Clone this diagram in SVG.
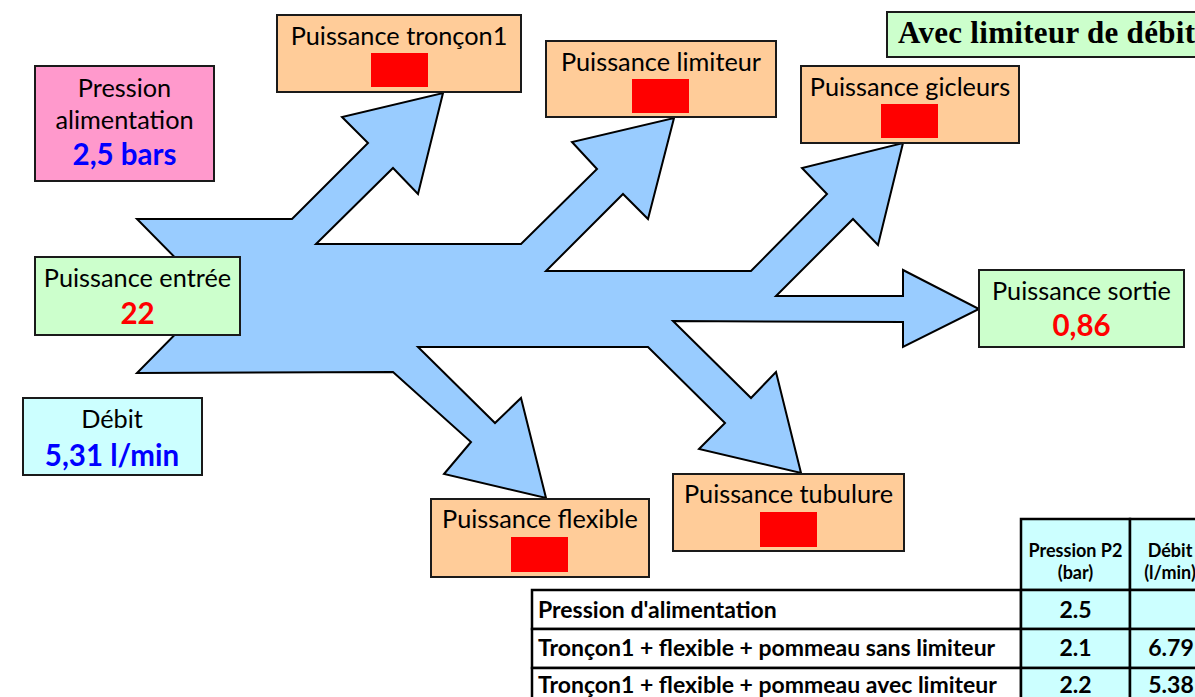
<svg xmlns="http://www.w3.org/2000/svg" width="1195" height="697" viewBox="0 0 1195 697">
<style>
.box{stroke:#1a1a1a;stroke-width:2}
.orange{fill:#FFCC99}.green{fill:#CCFFCC}.pink{fill:#FF99CC}.cyan{fill:#CCFFFF}
.red{fill:#FF0000}
.t{font-family:Lato,"Liberation Sans",sans-serif;font-size:25.3px;fill:#000;text-anchor:middle}
.nb{font-family:Lato,"Liberation Sans",sans-serif;font-size:29.5px;font-weight:bold;text-anchor:middle}
.blue{fill:#0000FF}.rtx{fill:#FF0000}
.title{font-family:"Liberation Serif",serif;font-size:31px;font-weight:bold;fill:#000}
.cell{stroke:#000;stroke-width:2.5}
.th{font-family:Lato,"Liberation Sans",sans-serif;font-size:18px;font-weight:bold;text-anchor:middle}
.td{font-family:Lato,"Liberation Sans",sans-serif;font-size:23px;font-weight:bold}
.tdc{font-family:Lato,"Liberation Sans",sans-serif;font-size:23px;font-weight:bold;text-anchor:middle}
</style>
<rect width="1195" height="697" fill="#FFFFFF"/>
<g id="connectors">
<polygon fill="#99CCFF" stroke="#000" stroke-width="2" stroke-linejoin="miter" points="137,219 292,219 368,143 342,117 443,93 418,194 393,168 316,244 521,244 597,169 572,142 674,118 648,219 623,194 546,271 751,271 827,194 802,168 903,143 878,245 853,219 776,296 903,296 903,270 979,309 903,347 903,322 673,321 751,398 776,372 801,473 699,449 725,423 648,347 418,347 495,423 521,398 546,498 444,474 471,442 393,372 137,373 213,296"/>
</g>
<g id="title">
<rect class="box green" x="887" y="12" width="320" height="45"/>
<text class="title" x="898" y="43" textLength="297">Avec limiteur de débit</text>
</g>
<g id="pression-alimentation">
<rect class="box pink" x="35" y="66" width="179" height="115"/>
<text class="t" x="124.5" y="97">Pression</text>
<text class="t" x="124.5" y="129">alimentation</text>
<text class="nb blue" x="124.5" y="165">2,5 bars</text>
</g>
<g id="puissance-entree">
<rect class="box green" x="35" y="257" width="205" height="78"/>
<text class="t" x="137.5" y="287">Puissance entrée</text>
<text class="nb rtx" x="137.5" y="324">22</text>
</g>
<g id="debit">
<rect class="box cyan" x="23" y="398" width="179" height="77"/>
<text class="t" x="112" y="428">Débit</text>
<text class="nb blue" x="112" y="466">5,31 l/min</text>
</g>
<g id="puissance-troncon1">
<rect class="box orange" x="277" y="15" width="244" height="77"/>
<text class="t" x="399" y="45">Puissance tronçon1</text>
<rect class="red" x="371" y="53" width="57" height="34"/>
</g>
<g id="puissance-limiteur">
<rect class="box orange" x="546" y="41" width="230" height="76"/>
<text class="t" x="661" y="71">Puissance limiteur</text>
<rect class="red" x="632" y="79" width="57" height="34"/>
</g>
<g id="puissance-gicleurs">
<rect class="box orange" x="801" y="66" width="218" height="77"/>
<text class="t" x="910" y="96">Puissance gicleurs</text>
<rect class="red" x="881" y="104" width="57" height="34"/>
</g>
<g id="puissance-sortie">
<rect class="box green" x="979" y="270" width="205" height="77"/>
<text class="t" x="1081.5" y="300">Puissance sortie</text>
<text class="nb rtx" x="1081.5" y="336">0,86</text>
</g>
<g id="puissance-tubulure">
<rect class="box orange" x="673" y="474" width="231" height="77"/>
<text class="t" x="788.5" y="503">Puissance tubulure</text>
<rect class="red" x="760" y="512" width="57" height="35"/>
</g>
<g id="puissance-flexible">
<rect class="box orange" x="431" y="499" width="218" height="78"/>
<text class="t" x="540" y="528">Puissance flexible</text>
<rect class="red" x="511" y="537" width="57" height="35"/>
</g>
<g id="table">
<rect class="cell cyan" x="1021" y="519" width="109" height="71"/>
<rect class="cell cyan" x="1130" y="519" width="95" height="71"/>
<text class="th" x="1075.5" y="557">Pression P2</text>
<text class="th" x="1075.5" y="579">(bar)</text>
<text class="th" x="1170" y="557">Débit</text>
<text class="th" x="1170" y="579">(l/min)</text>
<rect class="cell" fill="#FFFFFF" x="532" y="590" width="489" height="39"/>
<rect class="cell cyan" x="1021" y="590" width="109" height="39"/>
<rect class="cell cyan" x="1130" y="590" width="95" height="39"/>
<rect class="cell" fill="#FFFFFF" x="532" y="629" width="489" height="39"/>
<rect class="cell cyan" x="1021" y="629" width="109" height="39"/>
<rect class="cell cyan" x="1130" y="629" width="95" height="39"/>
<rect class="cell" fill="#FFFFFF" x="532" y="668" width="489" height="39"/>
<rect class="cell cyan" x="1021" y="668" width="109" height="39"/>
<rect class="cell cyan" x="1130" y="668" width="95" height="39"/>
<text class="td" x="538" y="618">Pression d'alimentation</text>
<text class="tdc" x="1075.5" y="618">2.5</text>
<text class="td" x="538" y="656">Tronçon1 + flexible + pommeau sans limiteur</text>
<text class="tdc" x="1075.5" y="656">2.1</text>
<text class="tdc" x="1171" y="656">6.79</text>
<text class="td" x="538" y="693">Tronçon1 + flexible + pommeau avec limiteur</text>
<text class="tdc" x="1075.5" y="693">2.2</text>
<text class="tdc" x="1171" y="693">5.38</text>
</g>
</svg>
